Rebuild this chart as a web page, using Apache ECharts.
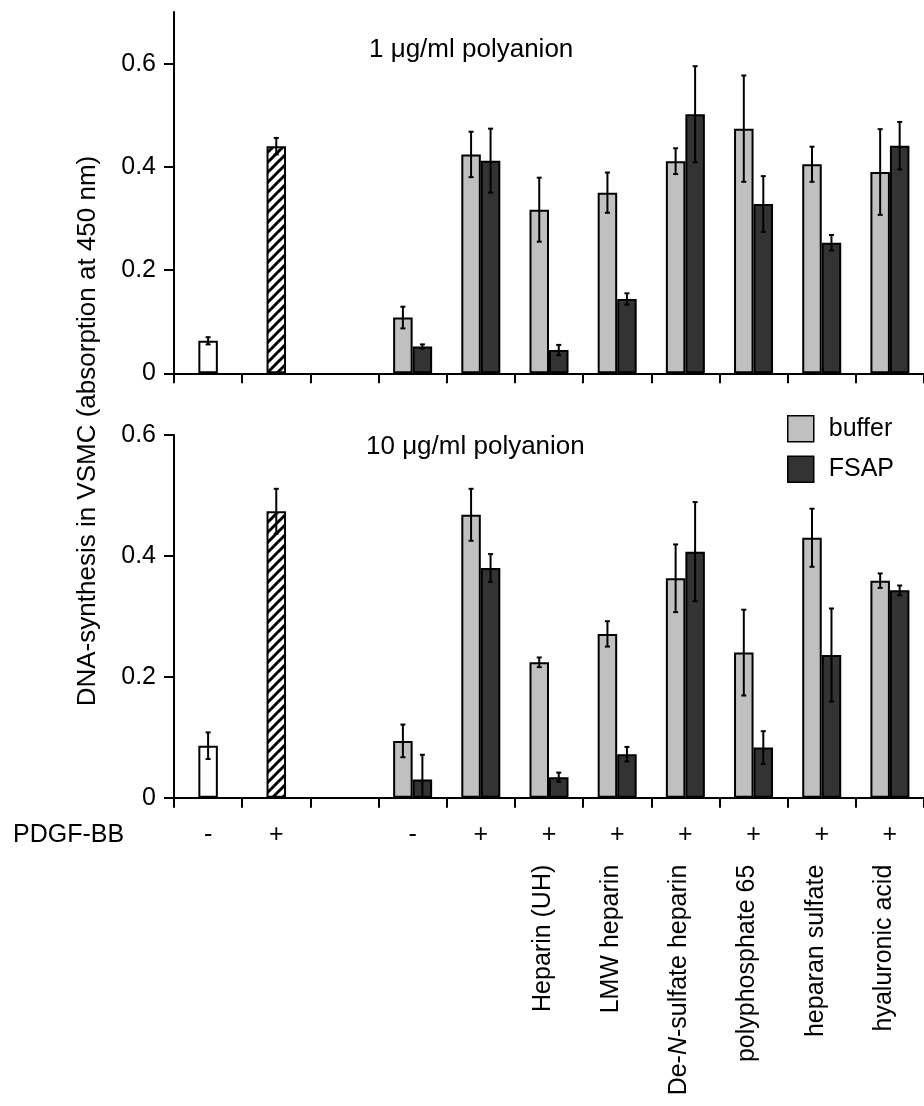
<!DOCTYPE html>
<html><head><meta charset="utf-8">
<script src="https://cdn.jsdelivr.net/npm/echarts@6/dist/echarts.min.js"></script>
<style>html,body{margin:0;padding:0;background:#fff}#c{width:924px;height:1106px}</style>
</head><body><div id="c"></div>
<script>
// ---------- data ----------
const categories = ['c0','c1','c2','c3','c4','c5','c6','c7','c8','c9','c10'];
const pdgfLabels = ['-','+','','-','+','+','+','+','+','+','+'];
const polyanionLabels = ['','','','','','Heparin (UH)','LMW heparin','De-N-sulfate heparin','polyphosphate 65','heparan sulfate','hyaluronic acid'];
const yTicks = [0, 0.2, 0.4, 0.6];
const panelTitles = ['1 \u03bcg/ml polyanion', '10 \u03bcg/ml polyanion'];
const yTitle = 'DNA-synthesis in VSMC (absorption at 450 nm)';

// 1 µg/ml polyanion
const ctrl1      = [0.063, 0.440, null, null, null, null, null, null, null, null, null];
const ctrl1Err   = [0.007, 0.016, null, null, null, null, null, null, null, null, null];
const buffer1    = [null, null, null, 0.108, 0.424, 0.317, 0.350, 0.411, 0.474, 0.405, 0.390];
const buffer1Err = [null, null, null, 0.021, 0.044, 0.062, 0.039, 0.025, 0.103, 0.034, 0.083];
const fsap1      = [null, null, null, 0.052, 0.412, 0.045, 0.144, 0.502, 0.328, 0.253, 0.441];
const fsap1Err   = [null, null, null, 0.004, 0.062, 0.010, 0.011, 0.093, 0.054, 0.015, 0.046];

// 10 µg/ml polyanion
const ctrl2      = [0.086, 0.474, null, null, null, null, null, null, null, null, null];
const ctrl2Err   = [0.022, 0.037, null, null, null, null, null, null, null, null, null];
const buffer2    = [null, null, null, 0.094, 0.468, 0.224, 0.271, 0.363, 0.240, 0.430, 0.359];
const buffer2Err = [null, null, null, 0.027, 0.043, 0.008, 0.021, 0.056, 0.071, 0.048, 0.012];
const fsap2      = [null, null, null, 0.030, 0.380, 0.034, 0.072, 0.407, 0.083, 0.236, 0.343];
const fsap2Err   = [null, null, null, 0.041, 0.023, 0.0075, 0.012, 0.082, 0.027, 0.077, 0.008];

// ---------- styles ----------
const FONT = "'Liberation Sans', Arial, Helvetica, sans-serif";
const FS = 25;
const BUFFER_COLOR = '#c0c0c0';
const FSAP_COLOR = '#333333';
const BAR_W = 19.5;

// hatch pattern
const hatch = document.createElement('canvas');
hatch.width = 10; hatch.height = 10;
(function(){
  const g = hatch.getContext('2d');
  g.fillStyle = '#fff'; g.fillRect(0,0,10,10);
  g.strokeStyle = '#000'; g.lineWidth = 3;
  g.beginPath();
  g.moveTo(-5,5); g.lineTo(5,-5);
  g.moveTo(0,10); g.lineTo(10,0);
  g.moveTo(5,15); g.lineTo(15,5);
  g.stroke();
})();

function errData(vals, errs) {
  const out = [];
  vals.forEach((v, i) => {
    if (v != null && errs[i] != null) out.push([i, Math.max(0, v - errs[i]), v + errs[i]]);
  });
  return out;
}
function errRenderer(offset) {
  return function (params, api) {
    const x = api.value(0);
    const pLo = api.coord([x, api.value(1)]);
    const pHi = api.coord([x, api.value(2)]);
    const cx = pLo[0] + offset;
    const cap = 2.5;
    const st = { stroke: '#000', lineWidth: 2 };
    return { type: 'group', children: [
      { type: 'line', shape: { x1: cx, y1: pHi[1], x2: cx, y2: pLo[1] }, style: st },
      { type: 'line', shape: { x1: cx - cap, y1: pHi[1], x2: cx + cap, y2: pHi[1] }, style: st },
      { type: 'line', shape: { x1: cx - cap, y1: pLo[1], x2: cx + cap, y2: pLo[1] }, style: st }
    ]};
  };
}

const axisLineStyle = { color: '#000', width: 2 };

function mainX(gridIndex, showLabels) {
  return {
    type: 'category', gridIndex, data: categories, position: 'bottom',
    axisLine: { show: true, lineStyle: axisLineStyle },
    axisTick: { show: true, length: 10, lineStyle: axisLineStyle },
    axisLabel: showLabels ? {
      show: true, interval: 0, margin: 25, color: '#000', fontFamily: FONT, fontSize: FS,
      formatter: (v, i) => pdgfLabels[i]
    } : { show: false },
    splitLine: { show: false }
  };
}
function hiddenX(gridIndex, showNames) {
  return {
    type: 'category', gridIndex, data: categories, position: 'bottom',
    axisLine: { show: false }, axisTick: { show: false }, splitLine: { show: false },
    axisLabel: showNames ? {
      show: true, interval: 0, rotate: 90, margin: 67, color: '#000',
      fontFamily: FONT, fontSize: FS, padding: [0, 0, 12, 0],
      formatter: (v, i) => {
        const s = polyanionLabels[i];
        if (!s) return '';
        if (s.indexOf('De-N-') === 0) return '{a|De-}{b|N}{a|' + s.slice(4) + '}';
        return '{a|' + s + '}';
      },
      rich: {
        a: { fontFamily: FONT, fontSize: FS, color: '#000' },
        b: { fontFamily: FONT, fontSize: FS, color: '#000', fontStyle: 'italic' }
      }
    } : { show: false }
  };
}
function yAx(gridIndex, max) {
  return {
    type: 'value', gridIndex, min: 0, max: max,
    axisLine: { show: true, lineStyle: axisLineStyle },
    axisTick: { show: true, length: 10, lineStyle: axisLineStyle, customValues: yTicks },
    axisLabel: { show: true, margin: 18, color: '#000', fontFamily: FONT, fontSize: FS,
      customValues: yTicks, formatter: v => String(v) },
    splitLine: { show: false }
  };
}

const barBorder = { borderColor: '#000', borderWidth: 2 };
function ctrlData(vals) {
  return vals.map((v, i) => v == null ? null : {
    value: v,
    itemStyle: { color: i === 0 ? '#ffffff' : { image: hatch, repeat: 'repeat' }, borderColor: '#000', borderWidth: 2 }
  });
}

function panelSeries(p, ctrl, ctrlErr, buf, bufErr, fs, fsErr) {
  const xMain = p * 2, xHid = p * 2 + 1;
  return [
    { type: 'bar', name: 'control', xAxisIndex: xHid, yAxisIndex: p, data: ctrlData(ctrl), barWidth: BAR_W, z: 2, silent: true },
    { type: 'bar', name: 'buffer', xAxisIndex: xMain, yAxisIndex: p, data: buf, barWidth: BAR_W, barGap: '0%',
      itemStyle: Object.assign({ color: BUFFER_COLOR }, barBorder), z: 2 },
    { type: 'bar', name: 'FSAP', xAxisIndex: xMain, yAxisIndex: p, data: fs, barWidth: BAR_W, barGap: '0%',
      itemStyle: Object.assign({ color: FSAP_COLOR }, barBorder), z: 2 },
    { type: 'custom', xAxisIndex: xHid, yAxisIndex: p, data: errData(ctrl, ctrlErr), renderItem: errRenderer(0), z: 5, silent: true },
    { type: 'custom', xAxisIndex: xMain, yAxisIndex: p, data: errData(buf, bufErr), renderItem: errRenderer(-BAR_W / 2), z: 5, silent: true },
    { type: 'custom', xAxisIndex: xMain, yAxisIndex: p, data: errData(fs, fsErr), renderItem: errRenderer(BAR_W / 2), z: 5, silent: true }
  ];
}

const chart = echarts.init(document.getElementById('c'), null, { renderer: 'canvas' });
chart.setOption({
  animation: false,
  backgroundColor: '#fff',
  textStyle: { fontFamily: FONT },
  grid: [
    { left: 174, top: 12, width: 752, height: 361.3 },
    { left: 174, top: 435, width: 752, height: 362.7 }
  ],
  xAxis: [ mainX(0, false), hiddenX(0, false), mainX(1, true), hiddenX(1, true) ],
  yAxis: [ yAx(0, 0.7), yAx(1, 0.6) ],
  legend: {
    data: ['buffer', 'FSAP'], orient: 'vertical', left: 787, top: 415,
    itemWidth: 26, itemHeight: 26, itemGap: 13, padding: 0,
    icon: 'rect',
    itemStyle: { borderColor: '#000', borderWidth: 1.5 },
    textStyle: { fontFamily: FONT, fontSize: FS, color: '#000', padding: [0, 0, 0, 10] },
    selectedMode: false
  },
  graphic: [
    { type: 'text', left: 369, top: 37, style: { text: panelTitles[0], font: '26px ' + FONT, fill: '#000' } },
    { type: 'text', left: 366, top: 434, style: { text: panelTitles[1], font: '26px ' + FONT, fill: '#000' } },
    { type: 'text', left: 13, top: 823, style: { text: 'PDGF-BB', font: FS + 'px ' + FONT, fill: '#000' } },
    { type: 'text', x: 88, y: 431, rotation: Math.PI / 2,
      style: { text: yTitle, font: '26px ' + FONT, fill: '#000', align: 'center', verticalAlign: 'middle' } }
  ],
  series: [].concat(
    panelSeries(0, ctrl1, ctrl1Err, buffer1, buffer1Err, fsap1, fsap1Err),
    panelSeries(1, ctrl2, ctrl2Err, buffer2, buffer2Err, fsap2, fsap2Err)
  )
});
</script>
</body></html>
